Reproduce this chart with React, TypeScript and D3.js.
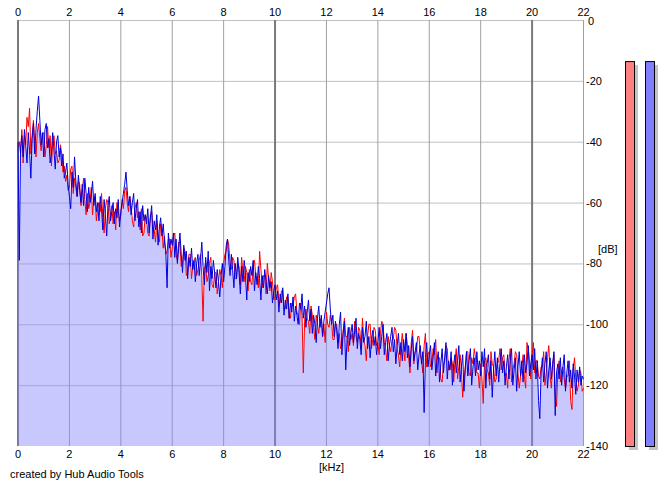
import React, { useMemo } from 'react';
import * as d3 from 'd3';

// spectrum read every 0.05 kHz, 0 .. 22 kHz (dB)
const stepKHz = 0.05;

const blueDb = [
  -40, -79, -42, -38, -45, -36, -41, -47, -37, -43, -52, -39, -34, -44, -36, -30, -25, -33, -41, -37,
  -45, -36, -34, -42, -39, -47, -44, -37, -43, -49, -40, -38, -45, -42, -48, -44, -52, -50, -47, -54,
  -58, -62, -50, -55, -45, -53, -58, -51, -56, -60, -54, -61, -52, -57, -63, -55, -60, -58, -53, -61,
  -57, -63, -60, -66, -58, -62, -69, -59, -64, -71, -61, -58, -66, -63, -60, -67, -62, -65, -59, -68,
  -63, -60, -57, -54, -50, -56, -61, -58, -64, -60, -57, -66, -62, -59, -68, -63, -70, -61, -66, -64,
  -67, -62, -70, -65, -61, -72, -66, -69, -64, -74, -68, -65, -71, -67, -73, -76, -88, -70, -75, -72,
  -74, -70, -78, -72, -80, -75, -70, -77, -83, -74, -79, -76, -85, -78, -81, -75, -82, -79, -86, -80,
  -77, -84, -79, -73, -81, -87, -78, -83, -76, -89, -81, -85, -79, -83, -88, -82, -86, -91, -84, -80,
  -86, -81, -74, -72, -79, -84, -77, -82, -88, -80, -85, -78, -83, -90, -81, -86, -79, -84, -92, -83,
  -86, -81, -84, -79, -89, -83, -87, -81, -85, -92, -84, -88, -82, -86, -90, -84, -88, -86, -93, -89,
  -87, -92, -89, -96, -90, -93, -88, -97, -92, -95, -90, -98, -93, -96, -91, -99, -94, -97, -100, -93,
  -95, -90, -98, -94, -101, -96, -92, -99, -95, -103, -97, -100, -106, -98, -94, -101, -97, -104, -99, -96,
  -93, -90, -88, -95, -100, -97, -104, -99, -102, -108, -100, -96, -110, -103, -99, -115, -105, -101, -107, -103,
  -100, -106, -102, -98, -108, -103, -105, -110, -101, -106, -104, -99, -108, -104, -111, -105, -102, -107, -104, -110,
  -106, -101, -108, -104, -100, -110, -106, -103, -112, -107, -104, -101, -109, -105, -113, -107, -103, -110, -106, -112,
  -105, -109, -103, -111, -107, -114, -108, -104, -112, -109, -106, -115, -110, -107, -113, -109, -129, -111, -106, -114,
  -110, -107, -115, -111, -106, -117, -112, -109, -119, -113, -108, -116, -111, -106, -118, -112, -115, -109, -120, -113,
  -110, -116, -112, -107, -119, -114, -110, -122, -115, -109, -117, -112, -108, -120, -114, -111, -117, -109, -115, -112,
  -117, -109, -114, -108, -121, -113, -110, -118, -112, -124, -115, -109, -117, -111, -119, -113, -108, -116, -112, -120,
  -114, -110, -118, -112, -108, -120, -115, -111, -122, -114, -109, -117, -112, -119, -110, -116, -113, -107, -117, -113,
  -110, -115, -108, -118, -112, -125, -131, -116, -111, -119, -113, -109, -121, -115, -111, -118, -113, -109, -130, -116,
  -113, -118, -111, -120, -114, -110, -122, -116, -112, -119, -115, -121, -113, -117, -123, -115, -119, -114, -120, -117,
  -118,
];

const redDb = [
  -42, -40, -44, -36, -47, -38, -41, -32, -35, -29, -44, -38, -33, -40, -45, -37, -34, -39, -43, -38,
  -37, -45, -41, -35, -42, -38, -48, -40, -38, -44, -43, -47, -46, -41, -44, -50, -48, -53, -51, -56,
  -55, -49, -48, -57, -52, -55, -58, -53, -54, -61, -56, -52, -59, -64, -57, -62, -60, -55, -64, -59,
  -58, -66, -62, -60, -63, -57, -65, -70, -62, -59, -60, -67, -64, -61, -67, -63, -69, -60, -63, -66,
  -64, -59, -62, -56, -55, -60, -63, -58, -61, -66, -68, -62, -60, -65, -63, -69, -62, -71, -70, -64,
  -65, -70, -71, -64, -63, -68, -69, -73, -66, -71, -73, -67, -69, -75, -71, -77, -76, -72, -72, -78,
  -75, -71, -70, -77, -79, -73, -73, -81, -80, -75, -76, -84, -83, -77, -77, -85, -81, -79, -78, -84,
  -82, -79, -77, -84, -99, -82, -80, -86, -84, -80, -78, -87, -88, -83, -83, -90, -86, -82, -84, -88,
  -80, -77, -76, -72, -74, -80, -82, -78, -79, -85, -85, -80, -81, -87, -78, -83, -86, -81, -83, -89,
  -82, -86, -87, -80, -79, -84, -85, -88, -76, -82, -88, -84, -84, -90, -80, -85, -89, -83, -86, -92,
  -91, -88, -87, -93, -93, -89, -89, -95, -95, -91, -91, -98, -98, -93, -94, -91, -90, -96, -97, -100,
  -93, -97, -116, -99, -95, -98, -99, -103, -94, -97, -101, -105, -97, -100, -103, -99, -98, -104, -100, -106,
  -96, -100, -101, -97, -99, -105, -105, -100, -100, -106, -103, -108, -107, -102, -98, -104, -104, -109, -101, -105,
  -103, -107, -99, -104, -106, -101, -102, -108, -98, -105, -107, -112, -104, -100, -100, -108, -105, -101, -102, -107,
  -106, -110, -103, -99, -100, -106, -108, -112, -104, -107, -109, -105, -105, -101, -102, -108, -110, -114, -107, -103,
  -108, -112, -103, -107, -111, -116, -106, -102, -113, -109, -109, -104, -104, -110, -112, -116, -107, -103, -114, -110,
  -109, -114, -113, -108, -110, -105, -116, -111, -111, -118, -119, -113, -112, -107, -108, -115, -115, -111, -113, -119,
  -112, -108, -118, -114, -110, -115, -124, -118, -114, -109, -109, -116, -117, -111, -113, -108, -111, -116, -116, -121,
  -113, -118, -126, -112, -111, -115, -116, -120, -109, -113, -114, -119, -118, -113, -112, -108, -115, -111, -110, -117,
  -116, -121, -112, -108, -119, -115, -113, -109, -110, -116, -121, -117, -114, -110, -117, -121, -106, -108, -112, -118,
  -110, -106, -116, -112, -112, -117, -118, -114, -114, -109, -120, -116, -111, -107, -117, -121, -113, -110, -123, -127,
  -116, -112, -119, -115, -114, -118, -121, -117, -117, -112, -125, -128, -115, -111, -118, -122, -120, -115, -116, -122,
  -121,
];

const kHzTicks = [0, 2, 4, 6, 8, 10, 12, 14, 16, 18, 20, 22];
const majorKHz = [0, 10, 20];
const dbTicks = [0, -20, -40, -60, -80, -100, -120, -140];
const meterLevels = [-13.5, -13.5];
const meterColors = ['#ff8080', '#8080ff'];

const W = 665;
const H = 487;
const plot = { left: 18, right: 583.5, top: 20, bottom: 446 };
const font = '"Liberation Sans", Arial, sans-serif';

export default function App() {
  const x = useMemo(() => d3.scaleLinear().domain([0, 22]).range([plot.left, plot.right]), []);
  const y = useMemo(() => d3.scaleLinear().domain([0, -140]).range([plot.top, plot.bottom]), []);

  const freq = (i: number) => i * stepKHz;

  const line = d3.line<number>()
    .x((_, i) => x(freq(i)))
    .y(d => y(d));

  // lower of the two channels is shaded
  const floor = blueDb.map((b, i) => Math.min(b, redDb[i]));
  const area = d3.area<number>()
    .x((_, i) => x(freq(i)))
    .y0(y(-140))
    .y1(d => y(d));

  const meterX = d3.scaleBand<number>().domain([0, 1]).range([625, 651]).paddingInner(0.7);

  return (
    <svg width={W} height={H} style={{ position: 'absolute', left: 0, top: 0, background: '#fff' }}>
      {/* grid */}
      {dbTicks.slice(0, -1).map(t => (
        <line key={`h${t}`} x1={plot.left} x2={plot.right} y1={y(t) + 0.5} y2={y(t) + 0.5}
          stroke="#c0c0c0" strokeWidth={1} />
      ))}
      {kHzTicks.map(t => {
        const major = majorKHz.includes(t);
        return (
          <line key={`v${t}`} x1={x(t)} x2={x(t)} y1={plot.top} y2={plot.bottom}
            stroke={major ? '#7a7a7a' : '#a0a0a0'} strokeWidth={major ? 2 : 1} />
        );
      })}

      {/* shaded floor */}
      <path d={area(floor) || ''} fill="#8585ff" fillOpacity={0.45} />

      <path d={line(redDb) || ''} fill="none" stroke="#ff0000" strokeWidth={1} />
      <path d={line(blueDb) || ''} fill="none" stroke="#0000e0" strokeWidth={1} />

      {/* axis labels */}
      <g fontFamily={font} fontSize={11} fill="#000">
        {kHzTicks.map(t => (
          <text key={`tt${t}`} x={x(t)} y={16} textAnchor="middle">{t}</text>
        ))}
        {kHzTicks.map(t => (
          <text key={`bt${t}`} x={x(t)} y={458} textAnchor="middle">{t}</text>
        ))}
        {dbTicks.map(t => (
          <text key={`db${t}`} x={t === 0 ? 588 : 586} y={y(t) + (t === 0 ? 5 : 4)}
            textAnchor="start">{t}</text>
        ))}
        <text x={598} y={253}>[dB]</text>
        <text x={319} y={471}>[kHz]</text>
        <text x={10} y={478}>created by Hub Audio Tools</text>
      </g>

      {/* level meters */}
      {meterLevels.map((lv, i) => {
        const bx = meterX(i) || 0;
        const bw = 9;
        return (
          <g key={`m${i}`}>
            <rect x={bx + 4} y={y(lv) + 4} width={bw} height={y(-140) - y(lv)} fill="#c4c4c4" />
            <rect x={bx + 0.5} y={y(lv) + 0.5} width={bw} height={y(-140) - y(lv)}
              fill={meterColors[i]} stroke="#000" strokeWidth={1} />
          </g>
        );
      })}
    </svg>
  );
}
